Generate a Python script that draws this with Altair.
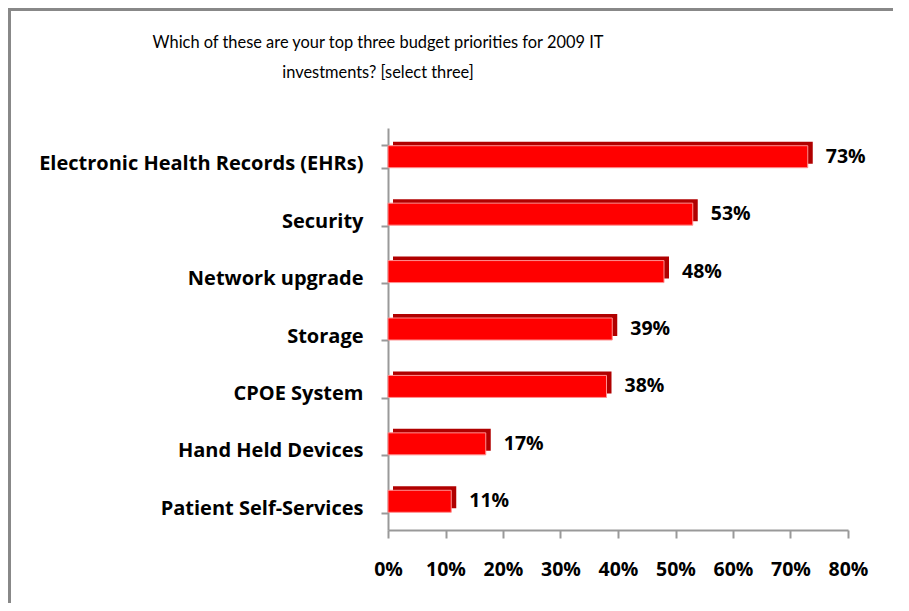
import altair as alt
import pandas as pd

categories = ["Electronic Health Records (EHRs)", "Security", "Network upgrade",
              "Storage", "CPOE System", "Hand Held Devices", "Patient Self-Services"]
values = [73, 53, 48, 39, 38, 17, 11]
labels = ["73%", "53%", "48%", "39%", "38%", "17%", "11%"]
title_lines = ["Which of these are your top three budget priorities for 2009 IT",
               "investments? [select three]"]

df = pd.DataFrame({"cat": categories, "val": [v / 100 for v in values], "lab": labels})

FONT = "Open Sans"
TFONT = "Lato"
LSIZE = 20

y = alt.Y("cat:N", sort=categories, title=None,
          scale=alt.Scale(paddingInner=0.6, paddingOuter=0.3),
          axis=alt.Axis(labelFont=FONT, labelFontSize=LSIZE, labelFontWeight="bold",
                        labelColor="#000000", labelPadding=18, tickSize=7, labelOffset=7,
                        tickColor="#999999", domainColor="#999999", domainWidth=2,
                        tickWidth=2, tickBand="extent", labelLimit=400))
x = alt.X("val:Q", title=None,
          scale=alt.Scale(domain=[0, 0.8], nice=False),
          axis=alt.Axis(format=".0%", values=[0, .1, .2, .3, .4, .5, .6, .7, .8],
                        labelFont=FONT, labelFontSize=19.5, labelFontWeight="bold",
                        labelColor="#000000", labelPadding=22, tickSize=8,
                        labelOverlap=False, labelFlush=False,
                        tickColor="#999999", domainColor="#999999", domainWidth=2,
                        tickWidth=2, grid=False))

base = alt.Chart(df)
side = base.mark_bar(color="#B00000", size=22, xOffset=5, yOffset=-4).encode(x=x, y=y)
front = base.mark_bar(color="#FF0000", size=22, stroke="#FF9090", strokeWidth=1).encode(x=x, y=y)
text = base.mark_text(align="left", dx=18, font=FONT, fontSize=19.5, fontWeight="bold",
                      color="#000000").encode(x=x, y=y, text="lab:N")

# chart title, two lines
t1 = alt.Chart(pd.DataFrame({"t": [title_lines[0]]})).mark_text(
    font=TFONT, fontSize=16.4, color="#000000", align="center", baseline="middle").encode(
    text="t:N", x=alt.value(-10), y=alt.value(-85))
t2 = alt.Chart(pd.DataFrame({"t": [title_lines[1]]})).mark_text(
    font=TFONT, fontSize=16.4, color="#000000", align="center", baseline="middle").encode(
    text="t:N", x=alt.value(-10), y=alt.value(-55))

# decorative frame around the whole picture (top and left edges)
frame_top = alt.Chart(df).mark_rule(color="#888888", strokeWidth=3).encode(
    x=alt.value(-380), x2=alt.value(520), y=alt.value(-119))
frame_left = alt.Chart(df).mark_rule(color="#888888", strokeWidth=3).encode(
    x=alt.value(-379), y=alt.value(-120), y2=alt.value(480))

chart = alt.layer(side, front, text, t1, t2, frame_top, frame_left).properties(
    width=460, height=402,
    autosize=alt.AutoSizeParams(type="none"),
    padding={"left": 380, "top": 120, "right": 45, "bottom": 73},
    background="#ffffff",
).configure_view(stroke=None)

chart.save("out.html", embed_options={"renderer": "svg", "actions": False})
